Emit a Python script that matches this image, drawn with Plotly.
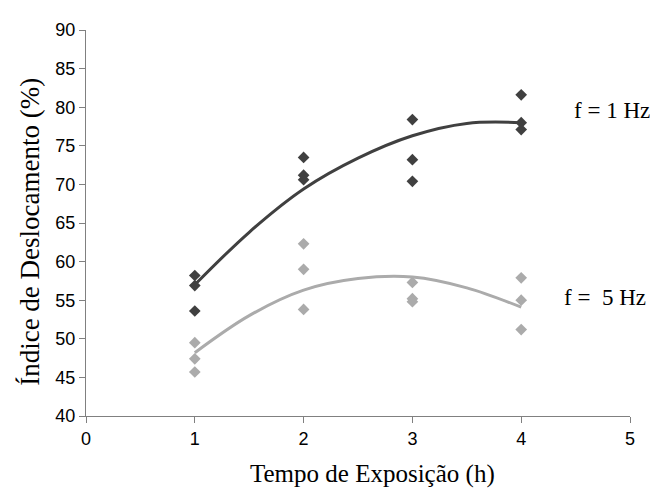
import plotly.graph_objects as go

# Observed points
x1 = [1, 1, 1, 2, 2, 2, 3, 3, 3, 4, 4, 4]
y1 = [58.2, 56.9, 53.6, 73.5, 71.2, 70.6, 78.4, 73.2, 70.4, 81.6, 78.0, 77.1]
x5 = [1, 1, 1, 2, 2, 2, 3, 3, 3, 4, 4, 4]
y5 = [49.5, 47.4, 45.7, 62.3, 59.0, 53.8, 57.3, 55.2, 54.8, 57.9, 55.0, 51.2]

# Trend lines
tx = [1, 1.5, 2, 2.5, 3, 3.5, 4]
t1 = [57.0, 63.8, 69.4, 73.4, 76.3, 77.9, 78.0]
t5 = [48.2, 53.0, 56.3, 57.8, 58.0, 56.6, 54.1]

labels = ["f = 1 Hz", "f =&nbsp; 5 Hz"]
label_x = [4.83, 4.77]
label_y = [79.6, 55.4]

dark = "#404040"
light = "#ababab"

fig = go.Figure()
fig.add_trace(go.Scatter(x=tx, y=t1, mode="lines", line=dict(color=dark, width=3, shape="spline"), hoverinfo="skip"))
fig.add_trace(go.Scatter(x=tx, y=t5, mode="lines", line=dict(color=light, width=3, shape="spline"), hoverinfo="skip"))
fig.add_trace(go.Scatter(x=x1, y=y1, mode="markers", marker=dict(symbol="diamond", size=9, color=dark)))
fig.add_trace(go.Scatter(x=x5, y=y5, mode="markers", marker=dict(symbol="diamond", size=9, color=light)))

for lx, ly, lt in zip(label_x, label_y, labels):
    fig.add_annotation(x=lx, y=ly, xref="x", yref="y", text=lt, showarrow=False,
                       font=dict(family="Liberation Serif", size=23, color="black"), xanchor="center")

fig.add_annotation(x=-0.103, y=0.477, xref="paper", yref="paper", text="Índice de Deslocamento (%)",
                   textangle=-90, showarrow=False, xanchor="center", yanchor="middle",
                   font=dict(family="Liberation Serif", size=27, color="black"))
fig.add_annotation(x=0.527, y=-0.15, xref="paper", yref="paper", text="Tempo de Exposição (h)",
                   showarrow=False, xanchor="center", yanchor="middle",
                   font=dict(family="Liberation Serif", size=25, color="black"))

axis_common = dict(showgrid=False, zeroline=False, showline=True, linecolor="#808080", linewidth=1,
                   ticks="outside", ticklen=6, tickcolor="#808080",
                   tickfont=dict(family="Liberation Sans", size=18, color="black"))
fig.update_xaxes(range=[0, 5], dtick=1, tick0=0, **axis_common)
fig.update_yaxes(range=[40, 90], dtick=5, tick0=40, **axis_common)

fig.update_layout(width=650, height=482, margin=dict(l=78, r=28, t=16, b=74),
                  plot_bgcolor="white", paper_bgcolor="white", showlegend=False)

fig.write_html("out.html")
